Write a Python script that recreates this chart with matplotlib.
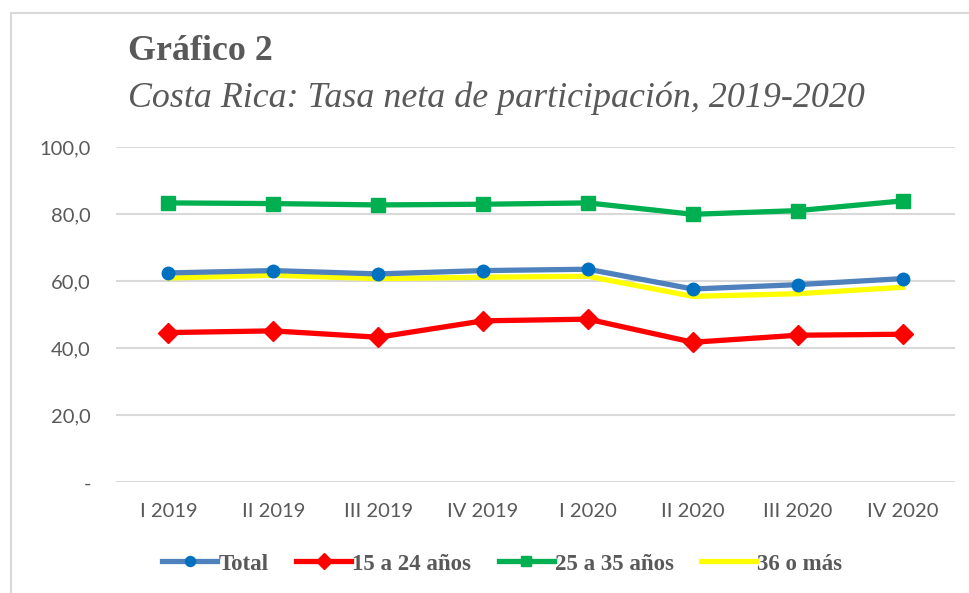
import matplotlib.pyplot as plt
from matplotlib.patches import Rectangle

quarters = ["I 2019", "II 2019", "III 2019", "IV 2019", "I 2020", "II 2020", "III 2020", "IV 2020"]
total = [62.5, 63.2, 62.2, 63.2, 63.6, 57.7, 59.0, 60.8]
age_15_24 = [44.7, 45.2, 43.3, 48.2, 48.7, 41.8, 43.9, 44.2]
age_25_35 = [83.4, 83.2, 82.8, 83.0, 83.4, 80.0, 81.1, 84.0]
age_36 = [61.0, 61.8, 60.8, 61.2, 61.5, 55.5, 56.3, 58.2]
yticks = [0, 20, 40, 60, 80, 100]
ytick_labels = ["-", "20,0", "40,0", "60,0", "80,0", "100,0"]

gray = "#595959"
fig = plt.figure(figsize=(9.7, 5.93), dpi=100)
fig.patches.append(Rectangle((11 / 970, -0.1), 1.2, 1 - 13 / 593 + 0.1, transform=fig.transFigure,
                             fill=False, edgecolor="#d9d9d9", linewidth=1.5))

ax = fig.add_axes([116 / 970, 1 - 482.3 / 593, (955 - 116) / 970, (482.3 - 147.3) / 593])
x = range(len(quarters))

ax.plot(x, total, color="#4f81bd", lw=3.8, marker="o", ms=9, mfc="#0070c0", mec="#0070c0",
        label="Total", zorder=4)
ax.plot(x, age_15_24, color="#ff0000", lw=3.8, marker="D", ms=10.5, label="15 a 24 años", zorder=3)
ax.plot(x, age_25_35, color="#00b050", lw=3.8, marker="s", ms=9.5, label="25 a 35 años", zorder=3)
ax.plot(x, age_36, color="#ffff00", lw=3.8, label="36 o más", zorder=3)

ax.set_xlim(-0.5, len(quarters) - 0.5)
ax.set_ylim(0, 100)
ax.set_yticks(yticks)
ax.set_yticklabels(ytick_labels)
ax.set_xticks(list(x))
ax.set_xticklabels(quarters)
ax.tick_params(length=0, labelsize=14.5, labelcolor=gray, pad=15)
ax.tick_params(axis="y", pad=18)
for lab in ax.get_xticklabels() + ax.get_yticklabels():
    lab.set_fontfamily("Lato")
ax.grid(axis="y", color="#d9d9d9", lw=1.5)
ax.set_axisbelow(True)
for s in ax.spines.values():
    s.set_visible(False)

fig.text(128 / 970, 1 - 51 / 593, "Gráfico 2", fontsize=25.8, fontweight="bold",
         family="Liberation Serif", color=gray, va="center")
fig.text(128 / 970, 1 - 98 / 593, "Costa Rica: Tasa neta de participación, 2019-2020", fontsize=25.8,
         style="italic", family="Liberation Serif", color=gray, va="center")

fig.legend(loc="center", bbox_to_anchor=(0.518, 1 - 564 / 593), ncol=4, frameon=False,
           prop={"family": "Liberation Serif", "weight": "bold", "size": 16.5}, labelcolor=gray,
           handlelength=2.4, handletextpad=0.05, columnspacing=1.2, markerscale=0.8)

fig.savefig("out.png", dpi=100)
